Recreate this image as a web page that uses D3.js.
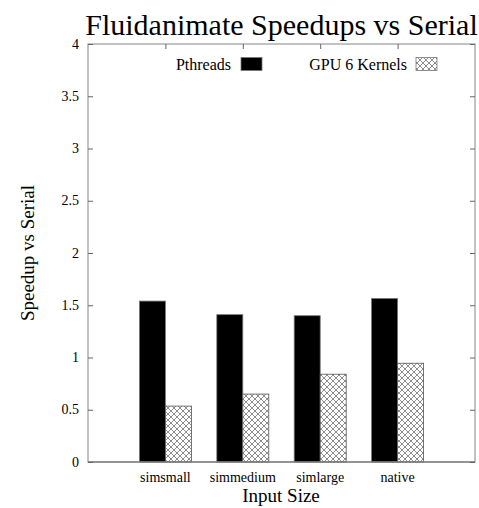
<!DOCTYPE html>
<html><head><meta charset="utf-8">
<script src="https://cdn.jsdelivr.net/npm/d3@7"></script>
<style>body{margin:0;background:#fff}svg{display:block}text{font-family:"Liberation Serif","Times New Roman",serif}</style>
</head><body>
<script>
const categories = ["simsmall","simmedium","simlarge","native"];
const pthreads = [1.54, 1.41, 1.40, 1.565];
const gpu6 = [0.535, 0.65, 0.84, 0.945];
const seriesNames = ["Pthreads","GPU 6 Kernels"];
const yTicks = [0,0.5,1,1.5,2,2.5,3,3.5,4];

const W=479,H=508;
const m={l:88,r:475,t:44,b:462};
const svg=d3.select("body").append("svg").attr("width",W).attr("height",H);

const defs=svg.append("defs");
const pat=defs.append("pattern").attr("id","xh").attr("patternUnits","userSpaceOnUse").attr("width",6).attr("height",6);
pat.append("rect").attr("width",6).attr("height",6).attr("fill","#fff");
pat.append("path").attr("d","M0,0L6,6M6,0L0,6M-1,5L1,7M5,-1L7,1M-1,1L1,-1M5,7L7,5").attr("stroke","#808080").attr("stroke-width",0.9);

const x=d3.scaleLinear().domain([0,5]).range([m.l,m.r]);
const y=d3.scaleLinear().domain([0,4]).range([m.b,m.t]);
const bw=26;

// bars
const g=svg.append("g");
g.selectAll(".p").data(pthreads).join("rect")
 .attr("x",(d,i)=>x(i+1)-bw).attr("width",bw)
 .attr("y",d=>y(d)).attr("height",d=>y(0)-y(d))
 .attr("fill","#000").attr("stroke","#777").attr("stroke-width",0.8);
g.selectAll(".g").data(gpu6).join("rect")
 .attr("x",(d,i)=>x(i+1)).attr("width",bw)
 .attr("y",d=>y(d)).attr("height",d=>y(0)-y(d))
 .attr("fill","url(#xh)").attr("stroke","#555").attr("stroke-width",0.8);

// frame
svg.append("rect").attr("x",m.l).attr("y",m.t).attr("width",m.r-m.l).attr("height",m.b-m.t)
 .attr("fill","none").attr("stroke","#999").attr("stroke-width",1.2);
svg.append("line").attr("x1",m.l).attr("x2",m.r).attr("y1",m.b).attr("y2",m.b).attr("stroke","#666").attr("stroke-width",1.2);

// y axis
const ya=svg.append("g").attr("transform",`translate(${m.l},0)`)
 .call(d3.axisRight(y).tickValues(yTicks).tickSize(5).tickFormat(()=>""));
ya.select(".domain").remove();
ya.selectAll("line").attr("stroke","#666");
const yr=svg.append("g").attr("transform",`translate(${m.r},0)`)
 .call(d3.axisLeft(y).tickValues(yTicks).tickSize(5).tickFormat(()=>""));
yr.select(".domain").remove();
yr.selectAll("line").attr("stroke","#666");
svg.append("g").selectAll("text").data(yTicks).join("text")
 .attr("x",79).attr("y",d=>y(d)+4.5).attr("text-anchor","end")
 .attr("font-size",14).text(d=>d);

// x axis ticks (top)
const xt=[1,2,3,4];
const xa=svg.append("g").attr("transform",`translate(0,${m.t})`)
 .call(d3.axisBottom(x).tickValues(xt).tickSize(5).tickFormat(()=>""));
xa.select(".domain").remove();
xa.selectAll("line").attr("stroke","#666");
svg.append("g").selectAll("text").data(categories).join("text")
 .attr("x",(d,i)=>x(i+1)).attr("y",482).attr("text-anchor","middle")
 .attr("font-size",14).text(d=>d);

// titles
svg.append("text").attr("x",281.5).attr("y",35).attr("text-anchor","middle")
 .attr("font-size",30).text("Fluidanimate Speedups vs Serial");
svg.append("text").attr("x",281).attr("y",502).attr("text-anchor","middle")
 .attr("font-size",19).text("Input Size");
svg.append("text").attr("transform","translate(34,253) rotate(-90)").attr("text-anchor","middle")
 .attr("font-size",19).text("Speedup vs Serial");

// legend
const leg=[{name:seriesNames[0],tx:231,sx:241,fill:"#000"},{name:seriesNames[1],tx:407,sx:416,fill:"url(#xh)"}];
leg.forEach(l=>{
 svg.append("text").attr("x",l.tx).attr("y",69.5).attr("text-anchor","end")
  .attr("font-size",16).text(l.name);
 svg.append("rect").attr("x",l.sx).attr("y",57.5).attr("width",21).attr("height",13)
  .attr("fill",l.fill).attr("stroke","#777").attr("stroke-width",0.8);
});
</script>
</body></html>
